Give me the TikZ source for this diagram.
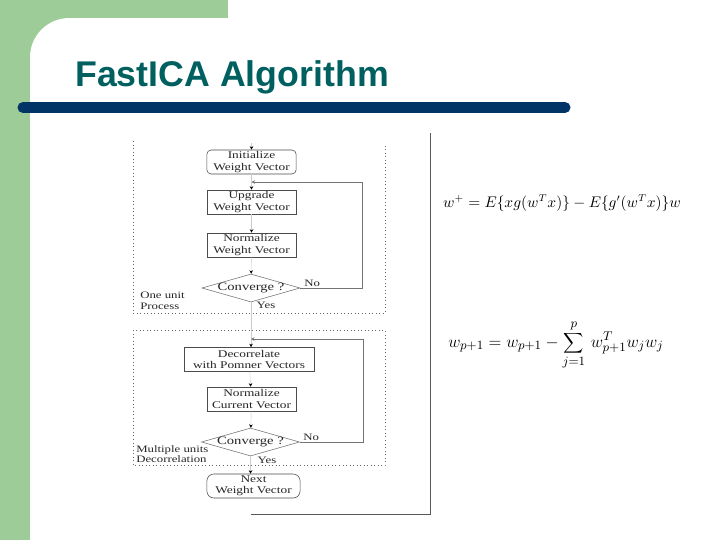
\documentclass[tikz,border=0pt]{standalone}
\usepackage{fontspec}
\setmainfont{Liberation Serif}
\setsansfont{Liberation Sans}
\newfontfamily\flowfont[FakeStretch=1.3]{Liberation Serif}
\usetikzlibrary{shapes.geometric,arrows.meta}
\definecolor{slidegreen}{RGB}{158,204,152}
\definecolor{titleteal}{RGB}{0,96,96}
\definecolor{barblue}{RGB}{0,51,102}

\begin{document}
\begin{tikzpicture}[x=0.025cm,y=-0.025cm,
  stepbox/.style={draw=black!70,line width=0.4pt,minimum width=2.23cm,minimum height=0.6cm,
    inner sep=0pt,align=center,font=\flowfont\fontsize{7.3}{7.9}\selectfont,text=black!85},
  termbox/.style={stepbox,rounded corners=3pt},
  decide/.style={diamond,draw=black!55,line width=0.4pt,minimum width=2.45cm,minimum height=0.7cm,
    inner sep=0pt,label={[font=\flowfont\fontsize{8}{9}\selectfont,text=black!85]center:Converge ?}},
  flow/.style={draw=black!20,line width=0.3pt,-{Stealth[length=2.5pt,width=2.5pt,black]}},
  back/.style={draw=black!55,line width=0.6pt,-{Stealth[length=2.5pt,width=2.5pt]}},
  region/.style={draw=black!60,dotted,line width=0.5pt},
  note/.style={font=\flowfont\fontsize{7}{7.6}\selectfont,align=left,inner sep=0pt,text=black!85},
  formula/.style={font=\fontsize{10.6}{13}\selectfont,inner sep=0pt}]

\useasboundingbox (0,0) rectangle (720,540);
% slide background
\fill[slidegreen] (0,0) rectangle (228,540);
\fill[white,rounded corners=28] (30,18) rectangle (760,580);
\node[font=\sffamily\bfseries\fontsize{25.4}{30}\selectfont,text=titleteal,anchor=base west,inner sep=0pt]
  (title) at (75,86) {FastICA Algorithm};
\draw[barblue,line width=0.275cm,line cap=round] (23,107.5) -- (565,107.5);

% frame of the figure
\draw[black!65,line width=0.6pt] (251,514) -- (430,514) -- (430,133);
\draw[region] (133,141) -- (133,313) -- (385,313) -- (385,143);
\draw[region] (133,330) rectangle (385,465);

% one unit
\node[termbox] (init) at (251.5,162) {Initialize\\Weight Vector};
\node[stepbox] (upg) at (251.5,202) {Upgrade\\Weight Vector};
\node[stepbox] (normw) at (251.5,245) {Normalize\\Weight Vector};
\node[decide] (conv1) at (251,288) {};
\coordinate (start) at (251.5,143);
\coordinate (j1) at (251.5,182);
\draw[flow] (start) -- (init);
\draw[flow] (init) -- (upg);
\draw[flow] (upg) -- (normw);
\draw[flow] (normw) -- (conv1);
\draw[back] (conv1.east) -- ++(62,0) |- (j1);
\node[note,anchor=south west] (no1) at (304,287) {No};
\node[note] (yes1) at (266,305) {Yes};
\node[note,anchor=west] (unit) at (140,301) {One unit\\Process};

% multiple units
\node[stepbox,minimum width=3.25cm] (dec) at (249,359.5) {Decorrelate\\with Pomner Vectors};
\node[stepbox] (normc) at (251.5,399) {Normalize\\Current Vector};
\node[decide] (conv2) at (250.5,442) {};
\node[termbox,minimum width=2.33cm,rounded corners=5pt] (next) at (253.5,486) {Next\\Weight Vector};
\coordinate (j2) at (251,339);
\draw[flow] (conv1.south) -- (conv1.south |- dec.north);
\draw[flow] (dec) -- (normc);
\draw[flow] (normc) -- (conv2);
\draw[flow] (conv2.south) -- (conv2.south |- next.north);
\draw[back] (conv2.east) -- ++(64,0) |- (j2);
\node[note,anchor=south west] (no2) at (303,441) {No};
\node[note] (yes2) at (267,460) {Yes};
\node[note,anchor=west] (multi) at (136,454) {Multiple units\\Decorrelation};

% update rules
\node[formula] (upd) at (562,203) {$w^{+} = E\{xg(w^{T}x)\}-E\{g'(w^{T}x)\}w$};
\node[formula,font=\fontsize{12.5}{15}\selectfont] (decor) at (556,345) {$\displaystyle w_{p+1} = w_{p+1}-\sum_{j=1}^{p}\, w_{p+1}^{T}w_{j}w_{j}$};
\end{tikzpicture}
\end{document}
